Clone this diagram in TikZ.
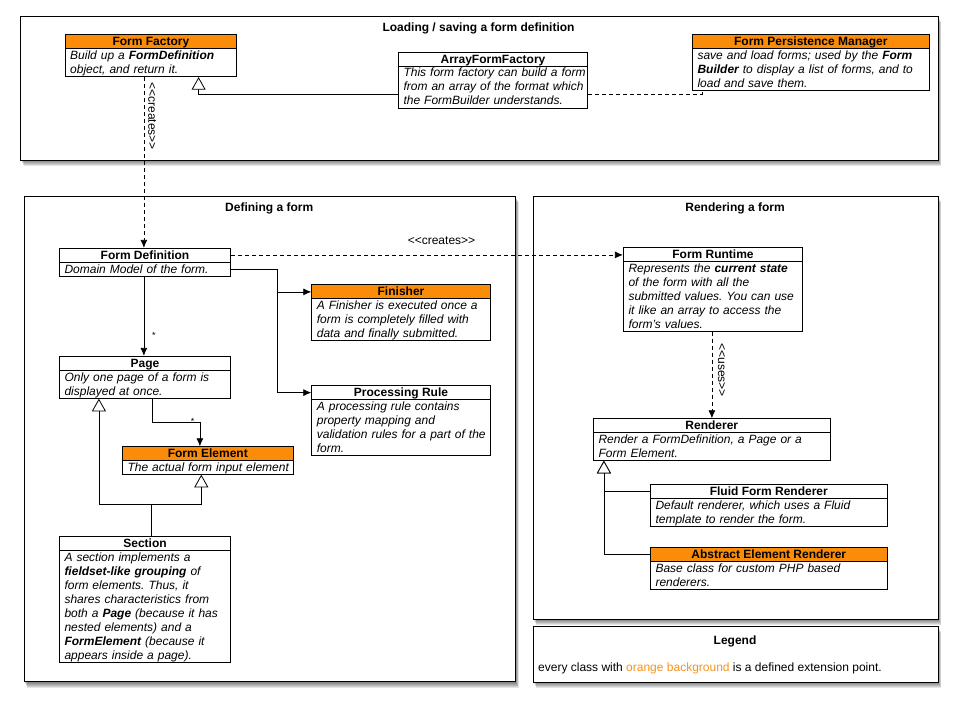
\documentclass[tikz,border=0pt]{standalone}
\usepackage{fontspec}
\setmainfont{Liberation Sans}
\usetikzlibrary{arrows.meta,calc,fit}
\definecolor{hdr}{RGB}{251,140,10}
\definecolor{legor}{RGB}{247,148,30}
\frenchspacing
\tikzset{
  conn/.style={line width=0.8pt},
  dep/.style={line width=0.8pt, dash pattern=on 4pt off 3pt},
  arr/.style={-{Latex[length=8pt,width=7pt]}},
  inh/.style={-{Triangle[open,length=12.6pt,width=14pt,fill=white]}},
  boxline/.style={line width=0.8pt},
  lbl/.style={font=\fontsize{12}{14}\selectfont},
}
% #1 fill, #2 name, #3 x1, #4 y1, #5 x2, #6 yh, #7 y2, #8 title, #9 body
\newcommand\umlclass[9][white]{%
  \fill[#1] (#3,#4) rectangle (#5,#6);
  \node[draw, boxline, inner sep=0pt, fit={(#3,#4) (#5,#7)}] (#2) {};
  \draw[boxline] (#3,#6) -- (#5,#6);
  \node[font=\fontsize{12}{14}\selectfont\bfseries, inner sep=0pt, anchor=base] (#2-t) at ({(#3+#5)/2},{#4+10.9}) {#8};
  \pgfmathsetmacro\tw{#5-#3+20}%
  \node[font=\fontsize{12}{14}\selectfont\itshape, anchor=north west, inner sep=0pt, text width=\tw pt, align=left] (#2-b) at ({#3+5},{#6+1.8}) {\frenchspacing\rule{0pt}{9pt}#9};
}
% frame with shadow: #1 name, #2 x1, #3 y1, #4 x2, #5 y2
\newcommand\frm[5]{%
  \foreach \s in {1,...,6}{\fill[black,opacity=0.1] ({#2+0.5*\s},{#3+\s}) rectangle ({#4+0.5*\s},{#5+\s});}
  \node[draw, fill=white, line width=0.8pt, inner sep=0pt, fit={(#2,#3) (#4,#5)}] (#1) {};
}
\begin{document}
\begin{tikzpicture}[x=1pt,y=-1pt]
\useasboundingbox (0,0) rectangle (958,706);
\fill[white] (0,0) rectangle (958,706);

% frames
\frm{f1}{20.5}{16}{938}{160}
\frm{f2}{24.3}{196}{515.7}{681.7}
\frm{f3}{533.3}{196}{938.3}{619}
\frm{f4}{533.3}{626}{938.3}{682.3}

\node[lbl, font=\fontsize{12}{14}\selectfont\bfseries, anchor=base] (t1) at (478.5,31.5) {Loading / saving a form definition};
\node[lbl, font=\fontsize{12}{14}\selectfont\bfseries, anchor=base] (t2) at (269.2,211) {Defining a form};
\node[lbl, font=\fontsize{12}{14}\selectfont\bfseries, anchor=base] (t3) at (735,211) {Rendering a form};
\node[lbl, font=\fontsize{12}{14}\selectfont\bfseries, anchor=base] (t4) at (735,644) {Legend};
\node[lbl, anchor=base west, inner sep=0pt] (legtext) at (538,671.5) {every class with \textcolor{legor}{orange background} is a defined extension point.};

% classes
\umlclass[hdr]{ff}{65}{34.3}{236.7}{48.3}{76.7}{Form Factory}{Build up a \textbf{FormDefinition}\\object, and return it.}
\umlclass{aff}{398.3}{52.3}{587.7}{66}{108.3}{ArrayFormFactory}{This form factory can build a form\\from an array of the format which\\the FormBuilder understands.}
\umlclass[hdr]{fpm}{692.3}{34.3}{929.3}{48.3}{90.3}{Form Persistence Manager}{save and load forms; used by the \textbf{Form}\\\textbf{Builder} to display a list of forms, and to\\load and save them.}
\umlclass{fd}{59.3}{248.3}{230.7}{262.3}{276.3}{Form Definition}{Domain Model of the form.}
\umlclass[hdr]{fin}{311.7}{284.3}{490.3}{298.3}{340.3}{Finisher}{A Finisher is executed once a\\form is completely filled with\\data and finally submitted.}
\umlclass{pr}{311.7}{385.3}{490.3}{399.3}{455.3}{Processing Rule}{A processing rule contains\\property mapping and\\validation rules for a part of the\\form.}
\umlclass{page}{59.3}{356.3}{230.7}{370.3}{398.3}{Page}{Only one page of a form is\\displayed at once.}
\umlclass[hdr]{fe}{122.3}{446.7}{293.3}{460.3}{474.3}{Form Element}{The actual form input element}
\umlclass{sec}{59.3}{536.3}{230.7}{550}{662}{Section}{A section implements a\\\textbf{fieldset-like grouping} of\\form elements. Thus, it\\shares characteristics from\\both a \textbf{Page} (because it has\\nested elements) and a\\\textbf{FormElement} (because it\\appears inside a page).}
\umlclass{fr}{623.3}{247.3}{802.7}{261.3}{331.3}{Form Runtime}{Represents the \textbf{current state}\\of the form with all the\\submitted values. You can use\\it like an array to access the\\form's values.}
\umlclass{ren}{593.3}{418.7}{830.3}{432.7}{460.3}{Renderer}{Render a FormDefinition, a Page or a\\Form Element.}
\umlclass{ffr}{650.3}{484.7}{887.3}{498.7}{526.3}{Fluid Form Renderer}{Default renderer, which uses a Fluid\\template to render the form.}
\umlclass[hdr]{aer}{650.3}{547.7}{887.3}{561.7}{589.3}{Abstract Element Renderer}{Base class for custom PHP based\\renderers.}

% connectors
\draw[dep,arr] ($(ff.south west)+(79.3,0)$) -- node[lbl, pos=0.229, rotate=-90, anchor=south, inner sep=4pt] (lc1) {<{}<creates>{}>} ($(fd.north west)+(85,0)$);
\draw[conn,inh] ($(aff.south west)+(0,-14)$) -| ($(ff.south west)+(134,0)$);
\draw[dep] ($(aff.south east)+(0,-14)$) -| ($(fpm.south west)+(10,0)$);

\coordinate (fdr) at ($(fd.north east)+(0,7)$);
\draw[dep,arr] (fdr) -- node[lbl, pos=0.537, anchor=base, yshift=10.3pt, inner sep=0pt] (lc2) {<{}<creates>{}>} (fdr -| fr.west);

\coordinate (fdj) at ($(fd.south east)+(46.6,-7)$);
\draw[conn,arr] ($(fd.south east)+(0,-7)$) -- (fdj) |- ($(fin.north west)+(0,8)$);
\draw[conn,arr] (fdj) |- ($(pr.north west)+(0,7.7)$);

\draw[conn,arr] ($(fd.south west)+(85,0)$) -- node[font=\fontsize{9}{10}\selectfont, pos=0.746, xshift=10pt, inner sep=0pt] (m1) {*} ($(page.north west)+(85,0)$);
\draw[conn,arr] ($(page.south west)+(93.4,0)$) -- ++(0,24) -| node[font=\fontsize{9}{10}\selectfont, pos=0.5, xshift=-7.3pt, yshift=1pt, inner sep=0pt] (m2) {*} ($(fe.north west)+(78,0)$);

\coordinate (secj) at ($(sec.north west)+(92,-31.3)$);
\draw[conn] ($(sec.north west)+(92,0)$) -- (secj);
\draw[conn,inh] (secj) -| ($(page.south west)+(40,0)$);
\draw[conn,inh] (secj) -| ($(fe.south west)+(79.4,0)$);

\draw[dep,arr] ($(fr.south west)+(89,0)$) -- node[lbl, pos=0.443, rotate=-90, anchor=south, inner sep=5.7pt] (lu) {<{}<uses>{}>} ($(ren.north west)+(119,0)$);

\draw[conn,inh] ($(ffr.north west)+(0,7)$) -| ($(ren.south west)+(11,0)$);
\draw[conn,inh] ($(aer.north west)+(0,6.6)$) -| ($(ren.south west)+(11,0)$);
\end{tikzpicture}
\end{document}
